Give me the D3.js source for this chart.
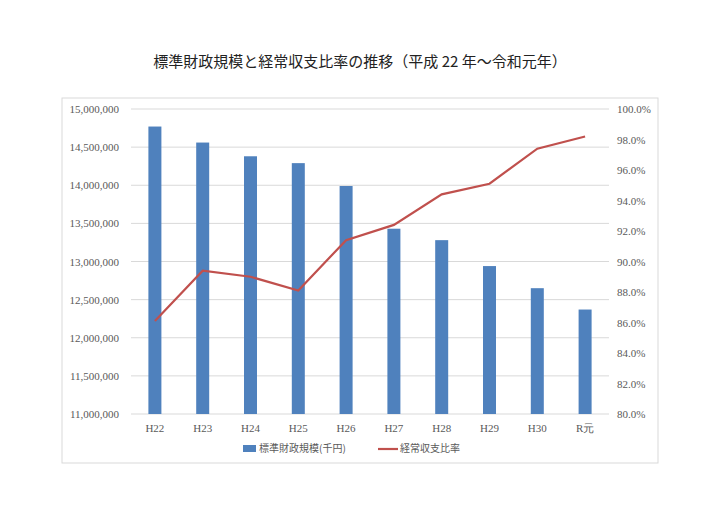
<!DOCTYPE html>
<html><head><meta charset="utf-8">
<script src="https://cdn.jsdelivr.net/npm/d3@7"></script>
<style>body{margin:0;background:#fff}</style></head>
<body><svg id="c" width="720" height="509"></svg>
<script>
const categories=["H22","H23","H24","H25","H26","H27","H28","H29","H30","R元"];
const scale=[14770000,14560000,14380000,14290000,13990000,13430000,13280000,12940000,12650000,12370000];
const ratio=[86.1,89.4,89.0,88.1,91.4,92.4,94.4,95.1,97.4,98.2];
const leftTicks=[11000000,11500000,12000000,12500000,13000000,13500000,14000000,14500000,15000000];
const rightTicks=[80,82,84,86,88,90,92,94,96,98,100];
const svg=d3.select("#c");
const L=131,R=609,T=109,B=414;
svg.append("rect").attr("x",62).attr("y",98).attr("width",596).attr("height",365).attr("fill","#fff").attr("stroke","#d9d9d9");
svg.append("text").attr("x",360).attr("y",67).attr("text-anchor","middle").attr("font-family","Noto Sans CJK JP").attr("font-size",15).attr("fill","#222").text("標準財政規模と経常収支比率の推移（平成 22 年～令和元年）");
const x=d3.scaleBand().domain(categories).range([L,R]);
const y=d3.scaleLinear().domain([11000000,15000000]).range([B,T]);
const y2=d3.scaleLinear().domain([80,100]).range([B,T]);
const font="Liberation Serif";
svg.append("g").selectAll("line").data(leftTicks).join("line").attr("x1",L).attr("x2",R).attr("y1",d=>y(d)).attr("y2",d=>y(d)).attr("stroke","#d9d9d9");
svg.append("g").selectAll("text").data(leftTicks).join("text").attr("x",L-12).attr("y",d=>y(d)+4).attr("text-anchor","end").attr("font-family",font).attr("font-size",11).attr("fill","#595959").text(d3.format(","));
svg.append("g").selectAll("text").data(rightTicks).join("text").attr("x",R+8).attr("y",d=>y2(d)+4).attr("font-family",font).attr("font-size",11).attr("fill","#595959").text(d=>d.toFixed(1)+"%");
svg.append("g").selectAll("text").data(categories).join("text").attr("x",d=>x(d)+x.bandwidth()/2).attr("y",B+18).attr("text-anchor","middle").attr("font-family",font).attr("font-size",11).attr("fill","#595959").text(d=>d);
const bw=13;
svg.append("g").selectAll("rect").data(scale).join("rect").attr("x",(d,i)=>x(categories[i])+x.bandwidth()/2-bw/2).attr("width",bw).attr("y",d=>y(d)).attr("height",d=>B-y(d)).attr("fill","#4f81bd");
svg.append("path").datum(ratio).attr("fill","none").attr("stroke","#c0504d").attr("stroke-width",2.2)
 .attr("d",d3.line().x((d,i)=>x(categories[i])+x.bandwidth()/2).y(d=>y2(d)));
const lg=svg.append("g").attr("font-family","Noto Sans CJK JP").attr("font-size",10).attr("fill","#595959");
lg.append("rect").attr("x",243).attr("y",445).attr("width",13).attr("height",7).attr("fill","#4f81bd");
lg.append("text").attr("x",259).attr("y",452).text("標準財政規模(千円)");
lg.append("line").attr("x1",378).attr("x2",398).attr("y1",449).attr("y2",449).attr("stroke","#c0504d").attr("stroke-width",2.2);
lg.append("text").attr("x",400).attr("y",452).text("経常収支比率");
</script></body></html>
